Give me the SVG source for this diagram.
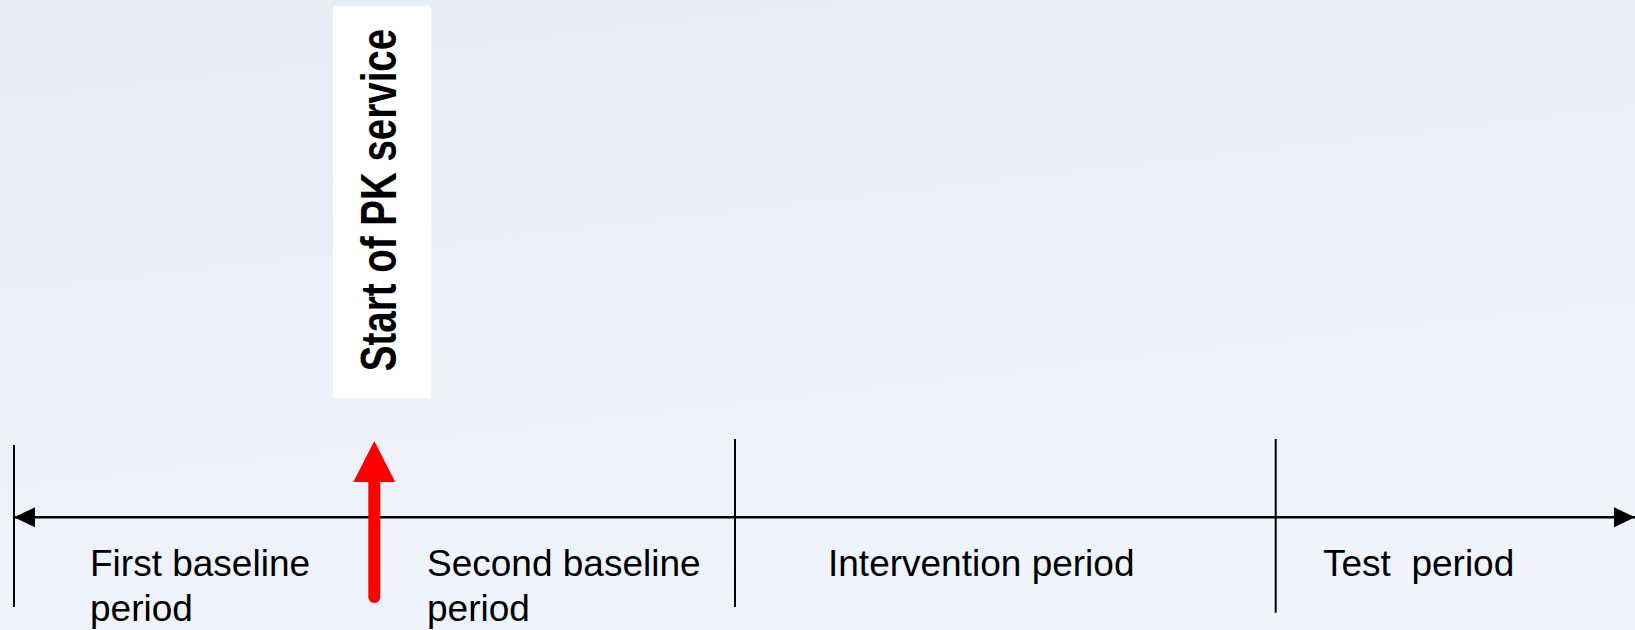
<svg xmlns="http://www.w3.org/2000/svg" width="1635" height="630" viewBox="0 0 1635 630">
  <defs>
    <linearGradient id="bg" x1="0" y1="0" x2="0.3" y2="1">
      <stop offset="0" stop-color="#E8ECF6"/>
      <stop offset="1" stop-color="#EFF3FC"/>
    </linearGradient>
    <marker id="blackHead" viewBox="0 0 21 20" refX="21" refY="10" markerWidth="21" markerHeight="20" markerUnits="userSpaceOnUse" orient="auto-start-reverse">
      <path d="M0,0 L21,10 L0,20 Z" fill="#000"/>
    </marker>
    <marker id="redHead" viewBox="0 0 41 42" refX="0" refY="21" markerWidth="41" markerHeight="42" markerUnits="userSpaceOnUse" orient="auto">
      <path d="M0,0 L41,21 L0,42 Z" fill="#FF0000"/>
    </marker>
  </defs>
  <style>
    .lbl { font-family: "Liberation Sans", Arial, sans-serif; font-size: 37px; fill: #000; white-space: pre; }
    .tick { stroke: #000; stroke-width: 2; fill: none; }
    .axis { stroke: #000; stroke-width: 2.5; fill: none; }
    .vert { font-family: "Liberation Sans", Arial, sans-serif; font-size: 50px; font-weight: bold; fill: #000; }
  </style>

  <rect x="0" y="0" width="1635" height="630" fill="url(#bg)"/>

  <g id="connectors">
    <path class="axis" d="M14,517.3 L1635,517.3" marker-start="url(#blackHead)" marker-end="url(#blackHead)"/>
    <line class="tick" x1="14" y1="445" x2="14" y2="607"/>
    <line class="tick" x1="735" y1="439" x2="735" y2="607"/>
    <line class="tick" x1="1275.7" y1="439" x2="1275.7" y2="612.7"/>
    <path d="M374.3,597 L374.3,482" stroke="#FF0000" stroke-width="12" stroke-linecap="round" fill="none" marker-end="url(#redHead)"/>
  </g>

  <g id="pk-service">
    <rect x="333" y="6" width="98" height="392" fill="#FFFFFF"/>
    <text class="vert" text-anchor="middle" transform="translate(396,200) rotate(-90) scale(0.77,1)">Start of PK service</text>
  </g>

  <g id="first-baseline">
    <text class="lbl" x="90" y="576">First baseline</text>
    <text class="lbl" x="90" y="621">period</text>
  </g>

  <g id="second-baseline">
    <text class="lbl" x="427" y="576">Second baseline</text>
    <text class="lbl" x="427" y="621">period</text>
  </g>

  <g id="intervention">
    <text class="lbl" x="828" y="576">Intervention period</text>
  </g>

  <g id="test">
    <text class="lbl" x="1323" y="576">Test  period</text>
  </g>
</svg>
